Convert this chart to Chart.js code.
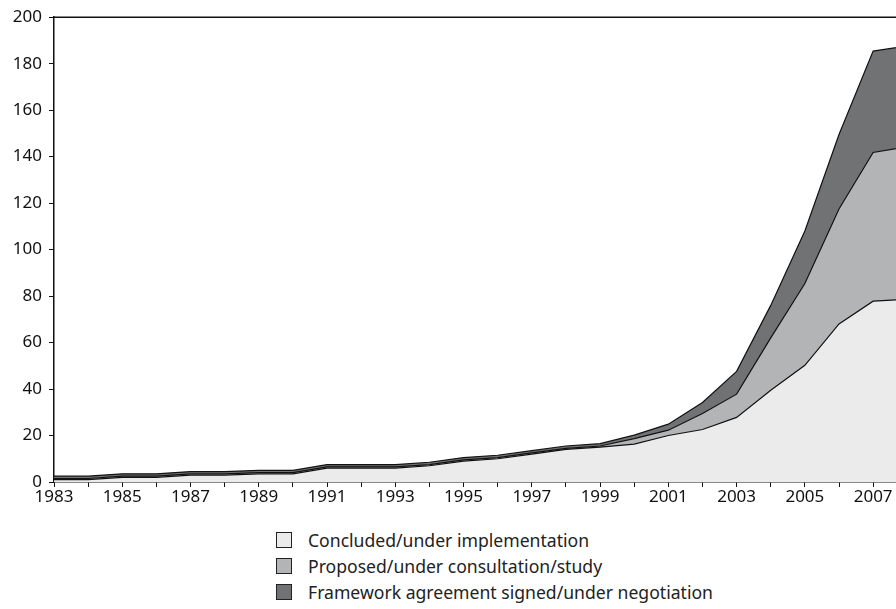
<!DOCTYPE html>
<html>
<head>
<meta charset="utf-8">
<script src="https://cdn.jsdelivr.net/npm/chart.js@4"></script>
<style>
    html, body { margin: 0; padding: 0; background: #fff; }
    body { width: 896px; height: 609px; overflow: hidden; font-family: 'Noto Sans', sans-serif; }
    #wrap { position: relative; width: 896px; height: 505px; }
    #legend { position: absolute; left: 276px; top: 527px; color: #222; font-size: 17.6px; }
    .row { display: flex; align-items: center; height: 26px; }
    .box { width: 16px; height: 16px; border: 1px solid #222; margin-right: 16px; box-sizing: border-box; }
</style>
</head>
<body>
<div id="wrap"><canvas id="chart"></canvas></div>
<div id="legend"></div>
<script>
// Values (stacked area, number of agreements)
const YEARS = [1983, 1984, 1985, 1986, 1987, 1988, 1989, 1990, 1991, 1992, 1993, 1994, 1995,
    1996, 1997, 1998, 1999, 2000, 2001, 2002, 2003, 2004, 2005, 2006, 2007, 2008];
const CONCLUDED = [1, 1, 2, 2, 3, 3, 3.5, 3.5, 6, 6, 6, 7, 9,
    10, 12, 14, 15, 16.3, 20, 22.6, 27.8, 39.5, 50.2, 68, 77.8, 78.7];
const PROPOSED = [0.5, 0.5, 0.5, 0.5, 0.5, 0.5, 0.5, 0.5, 0.5, 0.5, 0.5, 0.5, 0.5,
    0.5, 0.5, 0.5, 0.5, 2.4, 2.3, 6.9, 10, 22.5, 35.2, 49.5, 64, 65.5];
const FRAMEWORK = [1, 1, 1, 1, 1, 1, 1, 1, 1, 1, 1, 1, 1,
    1, 1, 1, 1, 1.5, 2.6, 4.7, 9.8, 14, 22.6, 32, 43.6, 43.5];
const SERIES_NAMES = ['Concluded/under implementation', 'Proposed/under consultation/study',
    'Framework agreement signed/under negotiation'];
const SERIES_COLORS = ['#ebebeb', '#b3b4b6', '#717274'];

const FONT = "'Noto Sans', sans-serif";

function pts(values) {
    return YEARS.map(function(y, i) { return { x: y, y: values[i] }; });
}

const datasets = [CONCLUDED, PROPOSED, FRAMEWORK].map(function(vals, i) {
    return {
        label: SERIES_NAMES[i],
        data: pts(vals),
        backgroundColor: SERIES_COLORS[i],
        borderColor: '#111',
        borderWidth: 1.2,
        pointRadius: 0,
        tension: 0,
        fill: i === 0 ? 'origin' : '-1',
    };
});

// top frame line of the plot
const topLine = {
    id: 'topLine',
    afterDraw(chart) {
        const a = chart.chartArea, c = chart.ctx;
        c.save();
        c.strokeStyle = '#111';
        c.lineWidth = 1.5;
        c.beginPath();
        c.moveTo(a.left, a.top);
        c.lineTo(chart.width, a.top);
        c.stroke();
        c.restore();
    }
};

new Chart(document.getElementById('chart'), {
    type: 'line',
    data: { datasets: datasets },
    plugins: [topLine],
    options: {
        responsive: true,
        maintainAspectRatio: false,
        animation: false,
        layout: { padding: { top: 16, right: 0, left: 0, bottom: 0 } },
        plugins: { legend: { display: false }, tooltip: { enabled: false } },
        scales: {
            x: {
                type: 'linear',
                min: 1983,
                max: 2007.67,
                afterBuildTicks(scale) {
                    // one tick per year up to the visible edge
                    scale.ticks = YEARS.filter(function(y) { return y <= 2007; })
                        .map(function(y) { return { value: y }; });
                },
                afterFit(scale) { scale.height = 23; },
                ticks: {
                    autoSkip: false,
                    maxRotation: 0,
                    padding: 0,
                    color: '#111',
                    font: { family: FONT, size: 17 },
                    callback: function(v) { return (v - 1983) % 2 === 0 ? String(v) : ''; }
                },
                grid: { drawOnChartArea: false, drawTicks: true, tickLength: 5, color: '#111' },
                border: { color: '#111', width: 1.5 }
            },
            y: {
                stacked: true,
                min: 0,
                max: 200,
                afterFit(scale) { scale.width = 54; },
                ticks: {
                    stepSize: 20,
                    padding: 7,
                    color: '#111',
                    font: { family: FONT, size: 17 }
                },
                grid: { drawOnChartArea: false, drawTicks: true, tickLength: 5, color: '#111' },
                border: { color: '#111', width: 1.5 }
            }
        }
    }
});

// legend below the chart
const legend = document.getElementById('legend');
SERIES_NAMES.forEach(function(name, i) {
    const row = document.createElement('div');
    row.className = 'row';
    const box = document.createElement('span');
    box.className = 'box';
    box.style.background = SERIES_COLORS[i];
    const txt = document.createElement('span');
    txt.textContent = name;
    row.appendChild(box);
    row.appendChild(txt);
    legend.appendChild(row);
});
</script>
</body>
</html>
